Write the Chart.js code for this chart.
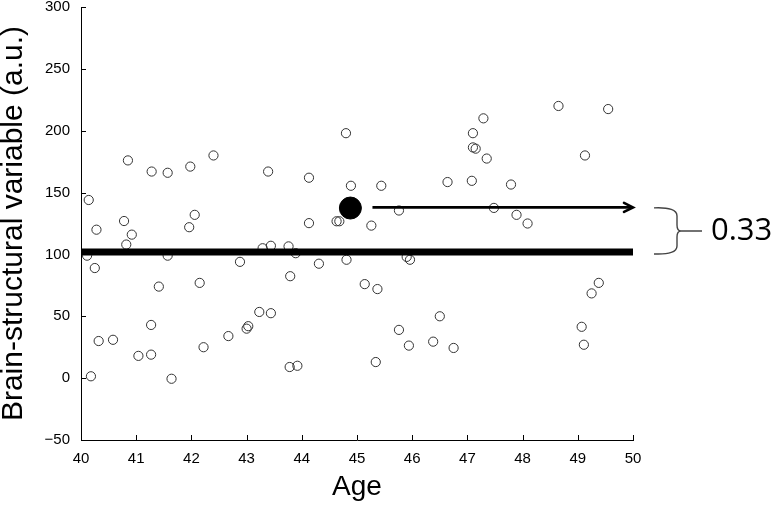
<!DOCTYPE html>
<html>
<head>
<meta charset="utf-8">
<script src="https://cdn.jsdelivr.net/npm/chart.js@4.4.1/dist/chart.umd.min.js"></script>
<style>
  html, body { margin: 0; padding: 0; background: #fff; }
  #wrap { width: 775px; height: 507px; }
</style>
</head>
<body>
<div id="wrap"><canvas id="ageChart"></canvas></div>
<script>
// subject data
const ages = [
  40.14, 40.85, 41.28, 41.57, 41.98, 42.40, 40.78, 42.06, 40.28, 41.96,
  40.92, 40.82, 40.11, 40.25, 41.57, 42.88, 41.41, 42.15, 41.27, 40.32,
  40.58, 41.04, 41.27, 40.18, 41.64, 42.22, 42.67, 43.00, 43.03, 43.23,
  43.44, 43.39, 44.80, 44.13, 44.89, 45.44, 47.29, 47.10, 47.10, 47.15,
  47.35, 46.64, 47.08, 45.76, 47.48, 44.13, 44.63, 44.68, 45.26, 48.65,
  49.55, 49.13, 47.79, 47.89, 48.09, 43.29, 43.44, 43.76, 43.89, 44.31,
  44.81, 43.79, 45.90, 45.96, 45.14, 45.37, 46.50, 45.76, 45.94, 46.38,
  46.75, 43.78, 43.92, 45.34, 49.38, 49.25, 49.07, 49.11
];
const brainValues = [
  144, 176, 167, 166, 171, 180, 127, 132, 120, 122,
  116, 108, 99, 89, 99, 94, 74, 77, 43, 30,
  31, 18, 19, 1.5, -0.5, 25, 34, 40, 42, 53.5,
  52.5, 167, 198, 162, 155.5, 155.5, 210, 198, 186.5, 185.5,
  177.5, 158.5, 159.5, 135.5, 137.6, 125.3, 126.8, 126.8, 123.3, 220,
  217.5, 180, 156.5, 132, 125, 105, 107, 106.5, 101, 92.5,
  95.7, 82.4, 98, 95.7, 76, 72, 50, 39, 26.3, 29.5,
  24.4, 9, 10, 13, 77, 68.5, 41.5, 27
];

// highlighted subject and group mean
const highlightAge = 44.88;
const highlightValue = 137.5;
const meanValue = 102;
const arrowAges = [45.28, 50];
const arrowValue = 138;
const diffLabel = '0.33';

const xTicks = { min: 40, max: 50, step: 1 };
const yTicks = { min: -50, max: 300, step: 50 };

const points = ages.map((a, i) => ({ x: a, y: brainValues[i] }));

// short tick marks pointing into the plot
const inwardTicks = {
  id: 'inwardTicks',
  afterDraw(chart) {
    const { ctx, scales: { x, y } } = chart;
    ctx.save();
    ctx.strokeStyle = '#000';
    ctx.lineWidth = 1;
    ctx.beginPath();
    x.ticks.forEach(t => {
      const px = Math.round(x.getPixelForValue(t.value)) + 0.5;
      ctx.moveTo(px, y.bottom);
      ctx.lineTo(px, y.bottom - 5);
    });
    y.ticks.forEach(t => {
      const py = Math.round(y.getPixelForValue(t.value)) + 0.5;
      ctx.moveTo(x.left, py);
      ctx.lineTo(x.left + 5, py);
    });
    ctx.stroke();
    ctx.restore();
  }
};

// arrow head, brace and difference label
const annotations = {
  id: 'annotations',
  afterDatasetsDraw(chart) {
    const { ctx, chartArea, scales: { x, y } } = chart;
    const tipX = x.getPixelForValue(arrowAges[1]);
    const ay = y.getPixelForValue(arrowValue);
    ctx.save();
    ctx.strokeStyle = '#000';
    ctx.lineWidth = 2.6;
    ctx.lineCap = 'round';
    ctx.lineJoin = 'miter';
    ctx.beginPath();
    ctx.moveTo(tipX - 9, ay - 4.5);
    ctx.lineTo(tipX, ay);
    ctx.lineTo(tipX - 9, ay + 4.5);
    ctx.stroke();

    const topY = y.getPixelForValue(arrowValue) + 0.5;
    const botY = y.getPixelForValue(meanValue) + 2;
    const midY = (topY + botY) / 2;
    const x0 = chartArea.right + 21;
    const xv = chartArea.right + 44;
    const xt = chartArea.right + 48;
    ctx.strokeStyle = '#444';
    ctx.lineWidth = 1.4;
    ctx.lineCap = 'butt';
    ctx.beginPath();
    ctx.moveTo(x0, topY);
    ctx.quadraticCurveTo(xv, topY - 1, xv, topY + 8);
    ctx.lineTo(xv, midY - 6);
    ctx.quadraticCurveTo(xv, midY, xt, midY);
    ctx.quadraticCurveTo(xv, midY, xv, midY + 6);
    ctx.lineTo(xv, botY - 8);
    ctx.quadraticCurveTo(xv, botY + 1, x0, botY);
    ctx.moveTo(xt, midY);
    ctx.lineTo(chartArea.right + 69, midY);
    ctx.stroke();

    ctx.fillStyle = '#000';
    ctx.font = '31px "Open Sans"';
    ctx.textBaseline = 'alphabetic';
    ctx.textAlign = 'left';
    ctx.fillText(diffLabel, chartArea.right + 78, midY + 9);
    ctx.restore();
  }
};

const ctx = document.getElementById('ageChart').getContext('2d');
new Chart(ctx, {
  type: 'scatter',
  data: {
    datasets: [
      {
        type: 'line',
        label: 'Mean',
        data: [{ x: xTicks.min, y: meanValue }, { x: xTicks.max, y: meanValue }],
        borderColor: '#000',
        borderWidth: 7,
        borderCapStyle: 'butt',
        pointRadius: 0,
        clip: false,
        order: 0
      },
      {
        type: 'line',
        label: 'Arrow',
        data: [{ x: arrowAges[0], y: arrowValue }, { x: arrowAges[1] - 0.03, y: arrowValue }],
        borderColor: '#000',
        borderWidth: 2.6,
        pointRadius: 0,
        clip: false,
        order: 1
      },
      {
        label: 'Subject',
        data: [{ x: highlightAge, y: highlightValue }],
        backgroundColor: '#000',
        borderColor: '#000',
        pointRadius: 11,
        order: 1
      },
      {
        label: 'Subjects',
        data: points,
        backgroundColor: 'rgba(255,255,255,0)',
        borderColor: '#333',
        borderWidth: 1,
        pointRadius: 4.6,
        order: 2
      }
    ]
  },
  plugins: [inwardTicks, annotations],
  options: {
    responsive: true,
    maintainAspectRatio: false,
    animation: false,
    layout: { autoPadding: false, padding: { top: 7, right: 142, left: 0, bottom: 0 } },
    plugins: {
      legend: { display: false },
      tooltip: { enabled: false }
    },
    scales: {
      x: {
        type: 'linear',
        min: xTicks.min,
        max: xTicks.max,
        afterFit: s => { s.height = 67; s.paddingLeft = 0; s.paddingRight = 0; },
        ticks: {
          stepSize: xTicks.step,
          padding: 10,
          color: '#000',
          font: { family: '"Liberation Sans", Arial', size: 15 }
        },
        grid: { display: true, drawOnChartArea: false, drawTicks: false },
        border: { display: true, color: '#000', width: 1 },
        title: {
          display: true,
          text: 'Age',
          color: '#000',
          font: { family: '"Liberation Sans", Arial', size: 28, lineHeight: 0.9 },
          padding: { top: 0, bottom: 7 }
        }
      },
      y: {
        min: yTicks.min,
        max: yTicks.max,
        afterFit: s => { s.width = 81; s.paddingTop = 0; s.paddingBottom = 0; },
        ticks: {
          stepSize: yTicks.step,
          padding: 11,
          color: '#000',
          font: { family: '"Liberation Sans", Arial', size: 15 },
          callback: v => (v < 0 ? '\u2212' + Math.abs(v) : v)
        },
        grid: { display: true, drawOnChartArea: false, drawTicks: false },
        border: { display: true, color: '#000', width: 1 },
        title: {
          display: true,
          text: 'Brain-structural variable (a.u.)',
          color: '#000',
          font: { family: '"Liberation Sans", Arial', size: 30, lineHeight: 0.9 },
          padding: { top: 0, bottom: 0 }
        }
      }
    }
  }
});
</script>
</body>
</html>
